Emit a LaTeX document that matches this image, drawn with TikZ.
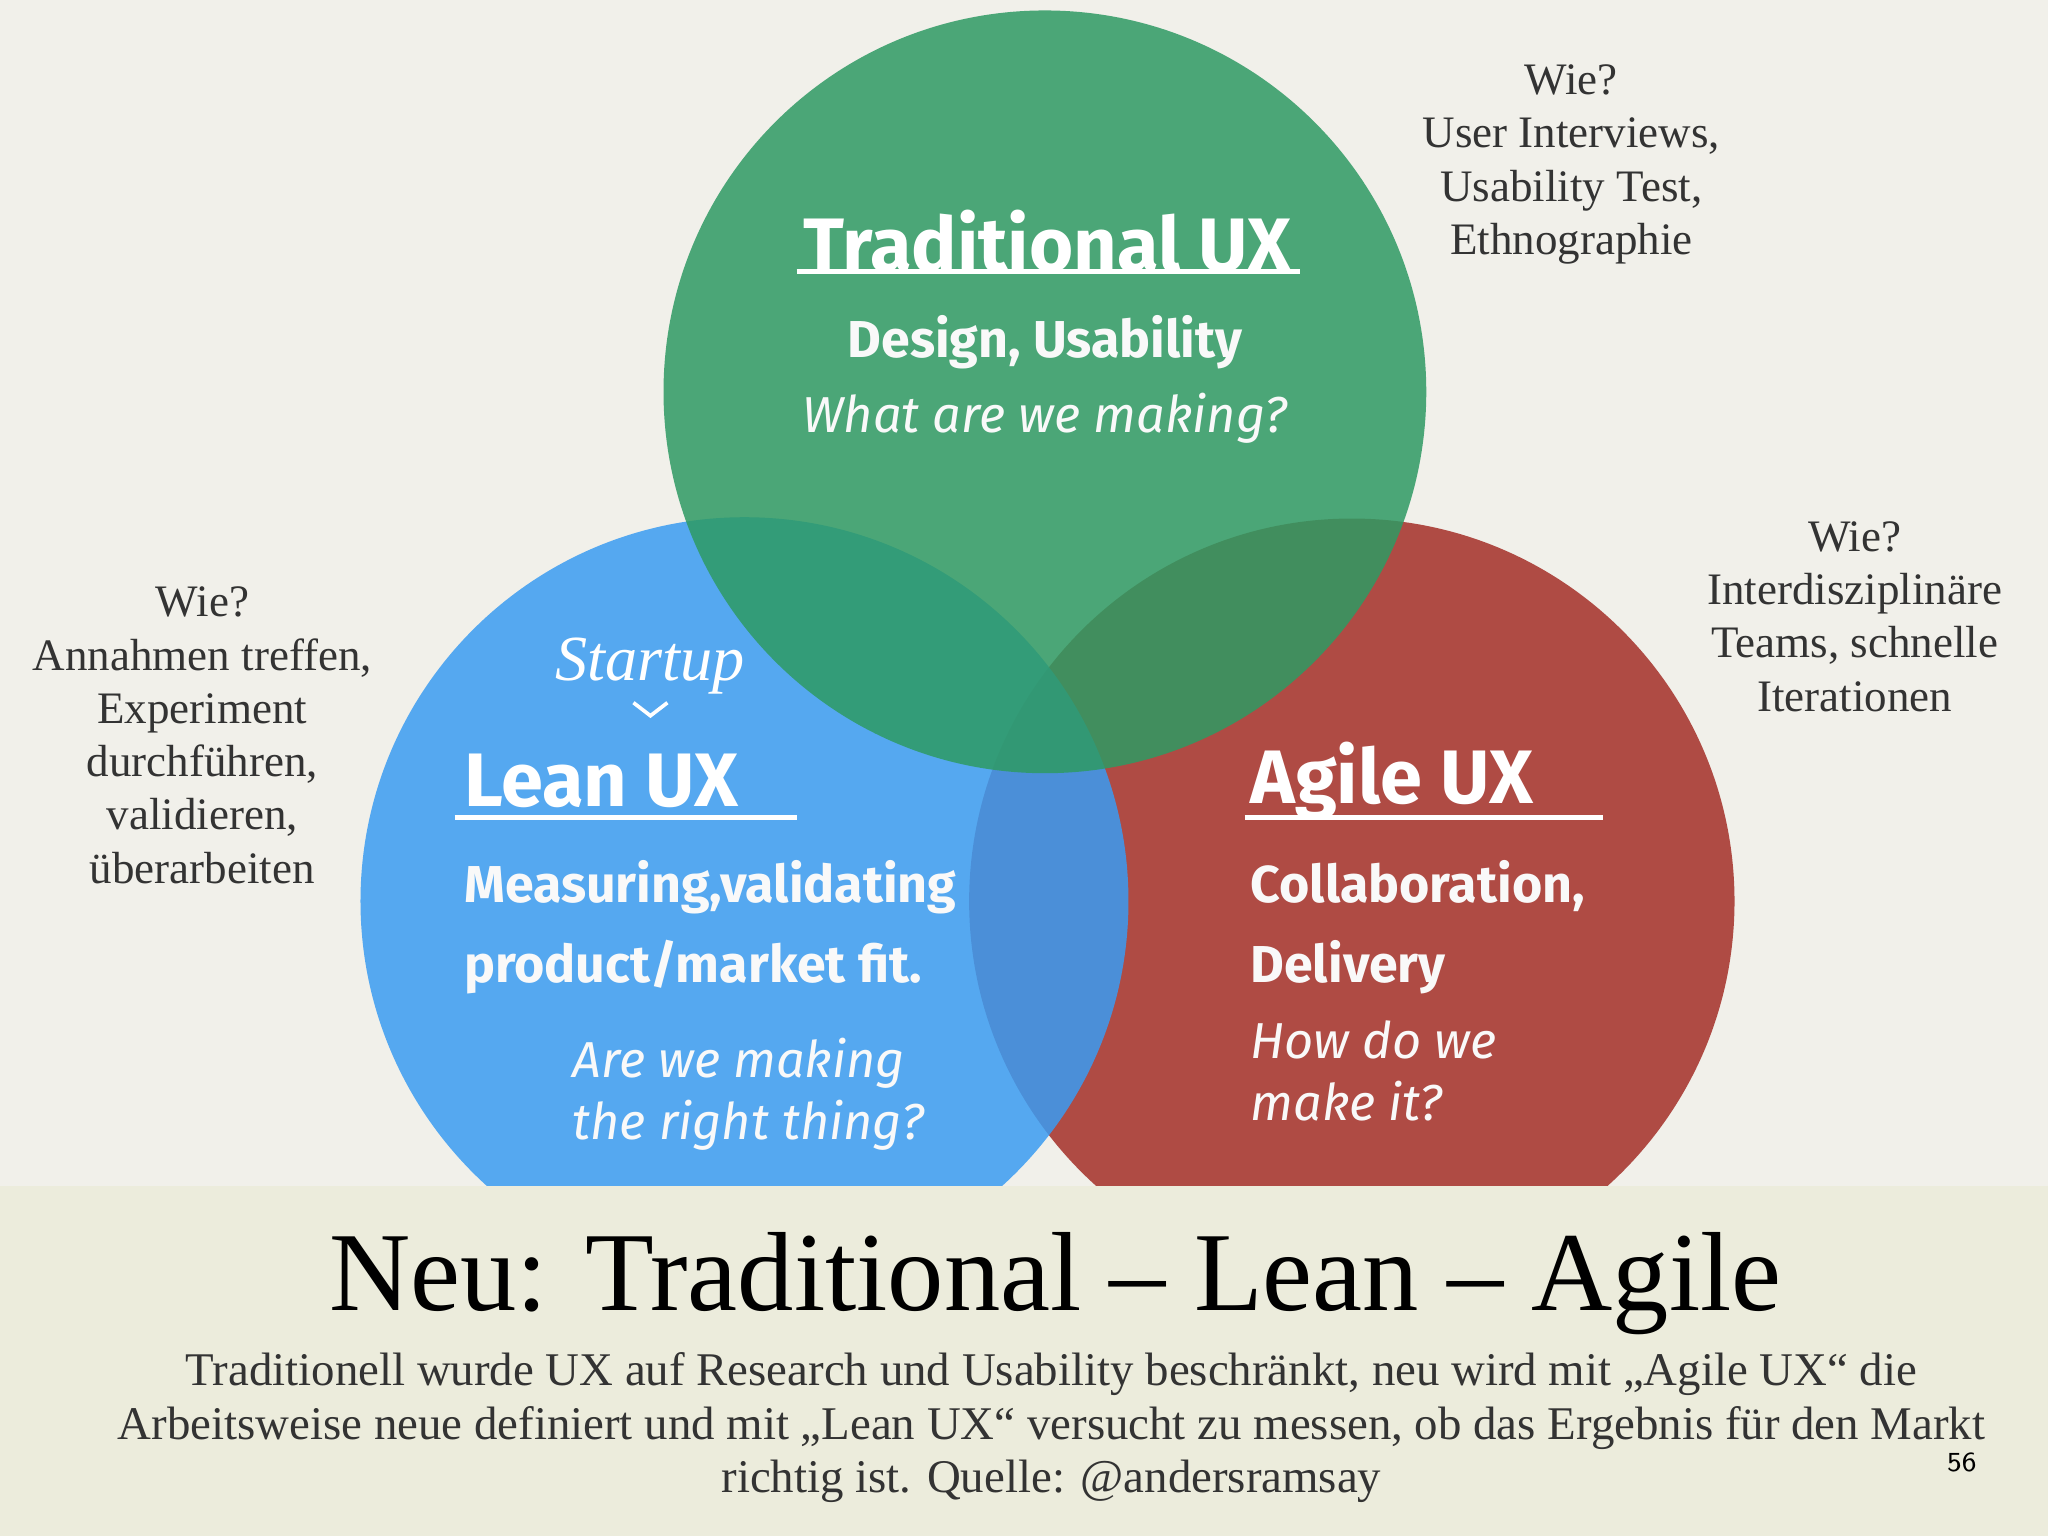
\documentclass[tikz,border=0pt]{standalone}
\usepackage{fontspec}
\setmainfont{Liberation Serif}
\newfontfamily\cs{Fira Sans}
\definecolor{bg}{HTML}{F1F0EA}
\definecolor{band}{HTML}{ECECDC}
\definecolor{gr}{HTML}{2E9A63}
\definecolor{bl}{HTML}{3A9CF2}
\definecolor{rd}{HTML}{A42F28}
\definecolor{tx}{HTML}{333333}
\tikzset{
 side/.style={font=\fontsize{9.8}{11.6}\selectfont, text=tx, align=center},
 ctitle/.style={font=\cs\bfseries\fontsize{16.5}{20}\selectfont, text=white, anchor=west},
 csub/.style={font=\cs\bfseries\fontsize{11.3}{17.5}\selectfont, text=white!95!gray, anchor=west, align=left},
 cit/.style={font=\cs\itshape\fontsize{11}{13.5}\selectfont, text=white!95!gray, anchor=west, align=left},
 circ/.style={fill opacity=0.85, draw=none}
}
\begin{document}
\begin{tikzpicture}[x=0.01cm,y=-0.01cm]
\fill[bg] (0,0) rectangle (1568,1176);
\fill[circ, rd] (1035,690) circle (293);
\fill[circ, bl] (570,690) circle (294);
\fill[circ, gr] (800,300) circle (292);
\fill[band] (0,908) rectangle (1568,1176);
% green texts
\node[ctitle, anchor=center] (t1) at (802,185) {Traditional UX};
\draw[white, line width=1.2pt] (610,208) -- (995,208);
\node[csub, anchor=center] (t2) at (800,262) {Design, Usability};
\node[cit, anchor=center] (t3) at (800,320) {What are we making?};
% blue
\node[font=\itshape\fontsize{14}{16}\selectfont, text=white] (st) at (498,510) {Startup};
\draw[white, line width=0.8pt] (485,538) -- (498,548) -- (511,538);
\node[ctitle] (l1) at (343,598) {Lean UX};
\draw[white, line width=1.2pt] (348,626) -- (610,626);
\node[csub] (l2) at (343,710) {Measuring,validating\\product/market fit.};
\node[cit] (l3) at (426,838) {Are we making\\the right thing?};
% red
\node[ctitle] (a1) at (945,598) {Agile UX};
\draw[white, line width=1.2pt] (953,626) -- (1227,626);
\node[csub] (a2) at (945,710) {Collaboration,\\Delivery};
\node[cit] (a3) at (945,820) {How do we\\make it?};
% side notes
\node[side] (s1) at (1203,126) {Wie?\\User Interviews,\\Usability Test,\\Ethnographie};
\node[side] (s2) at (1420,472) {Wie?\\Interdisziplinäre\\Teams, schnelle\\Iterationen};
\node[side] (s3) at (155,563) {Wie?\\Annahmen treffen,\\Experiment\\durchführen,\\validieren,\\überarbeiten};
% bottom
\node[font=\fontsize{24.5}{30}\selectfont, text=black] (ti) at (808,983) {Neu: Traditional – Lean – Agile};
\node[side, font=\fontsize{10.2}{11.7}\selectfont] (cap) at (805,1093) {Traditionell wurde UX auf Research und Usability beschränkt, neu wird mit „Agile UX“ die\\Arbeitsweise neue definiert und mit „Lean UX“ versucht zu messen, ob das Ergebnis für den Markt\\richtig ist. Quelle: @andersramsay};
\node[font=\sffamily\fontsize{6}{7}\selectfont] (pg) at (1502,1120) {56};
\end{tikzpicture}
\end{document}
